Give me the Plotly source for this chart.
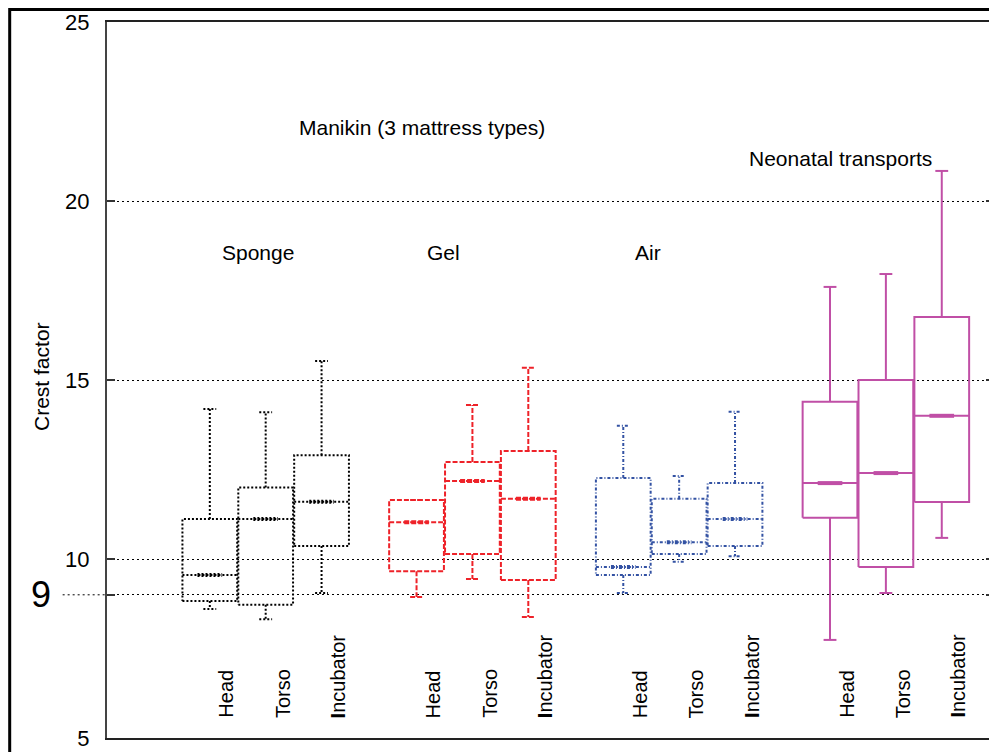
import plotly.graph_objects as go

# box statistics (Head, Torso, Incubator in each group)
groups = ["Sponge", "Gel", "Air", "Neonatal transports"]
sites = ["Head", "Torso", "Incubator"]

sponge_low = [8.60, 8.32, 9.05]
sponge_q1 = [8.83, 8.72, 10.36]
sponge_med = [9.55, 11.12, 11.60]
sponge_q3 = [11.12, 12.00, 12.90]
sponge_high = [14.19, 14.10, 15.53]

gel_low = [8.94, 9.44, 8.38]
gel_q1 = [9.66, 10.14, 9.41]
gel_med = [11.03, 12.18, 11.68]
gel_q3 = [11.65, 12.71, 13.02]
gel_high = [11.65, 14.30, 15.34]

air_low = [9.05, 9.92, 10.08]
air_q1 = [9.55, 10.14, 10.36]
air_med = [9.78, 10.47, 11.12]
air_q3 = [12.26, 11.68, 12.12]
air_high = [13.72, 12.32, 14.11]

neo_low = [7.74, 9.05, 10.59]
neo_q1 = [11.15, 9.78, 11.59]
neo_med = [12.12, 12.40, 14.00]
neo_q3 = [14.39, 15.00, 16.76]
neo_high = [17.60, 17.96, 20.84]

stats = [
    (sponge_low, sponge_q1, sponge_med, sponge_q3, sponge_high),
    (gel_low, gel_q1, gel_med, gel_q3, gel_high),
    (air_low, air_q1, air_med, air_q3, air_high),
    (neo_low, neo_q1, neo_med, neo_q3, neo_high),
]

colors = ["#000000", "#ee2229", "#3352a3", "#c04fa6"]
dashes = ["2px,2px", "5px,2px", "3px,2px,1px,2px", "solid"]

# layout of the boxes along the x axis
first_pos = 1.84
group_step = 3.7
box_w = 0.98
cap_w = 0.23

fig = go.Figure()

for g in range(len(groups)):
    low, q1, med, q3, high = stats[g]
    for s in range(len(sites)):
        xc = first_pos + g * group_step + s
        h = box_w / 2
        c = cap_w / 2
        xs = [xc - h, xc + h, xc + h, xc - h, xc - h, None,
              xc, xc, None, xc - c, xc + c, None,
              xc, xc, None, xc - c, xc + c, None,
              xc - h, xc + h]
        ys = [q1[s], q1[s], q3[s], q3[s], q1[s], None,
              q3[s], high[s], None, high[s], high[s], None,
              q1[s], low[s], None, low[s], low[s], None,
              med[s], med[s]]
        fig.add_trace(go.Scatter(x=xs, y=ys, mode="lines",
                                 line=dict(color=colors[g], width=2, dash=dashes[g]),
                                 hoverinfo="skip", showlegend=False))
        # bolder centre part of the median
        fig.add_trace(go.Scatter(x=[xc - h * 0.45, xc + h * 0.45], y=[med[s], med[s]],
                                 mode="lines",
                                 line=dict(color=colors[g], width=4, dash=dashes[g]),
                                 hoverinfo="skip", showlegend=False))
        label = "<b>I</b>ncubator" if sites[s] == "Incubator" else sites[s]
        fig.add_annotation(x=xc + 0.3, y=5.5, text=label, textangle=-90,
                           xanchor="center", yanchor="bottom", showarrow=False,
                           font=dict(size=20, color="black"))

txt = dict(size=21, color="black")
fig.add_annotation(x=5.64, y=22.04, text="Manikin (3 mattress types)", showarrow=False, font=txt)
fig.add_annotation(x=13.12, y=21.2, text="Neonatal transports", showarrow=False, font=txt)
fig.add_annotation(x=2.70, y=18.55, text="Sponge", showarrow=False, font=txt)
fig.add_annotation(x=6.02, y=18.55, text="Gel", showarrow=False, font=txt)
fig.add_annotation(x=9.68, y=18.55, text="Air", showarrow=False, font=txt)

# y axis title and the big "9" mark
fig.add_annotation(x=-0.089, xref="paper", y=15.1, text="Crest factor", textangle=-90,
                   showarrow=False, font=dict(size=21, color="black"))
fig.add_annotation(x=-0.0607, xref="paper", xanchor="right", y=9, yanchor="middle",
                   text="9", showarrow=False, font=dict(size=36, color="black"))
fig.add_shape(type="line", xref="paper", x0=-0.05, x1=0, y0=9, y1=9,
              line=dict(color="black", width=1, dash="2px,3px"))

# outer frame
fig.add_shape(type="rect", xref="paper", yref="paper", x0=-0.1097, x1=1.05,
              y0=-0.05, y1=1.0175, line=dict(color="black", width=3))

fig.update_xaxes(range=[0, 15.875], showticklabels=False, ticks="", showgrid=False,
                 zeroline=False, showline=True, linecolor="#222", linewidth=2, mirror=True)
fig.update_yaxes(range=[5, 25], tickvals=[5, 9, 10, 15, 20, 25],
                 ticktext=["5", "", "10", "15", "20", "25"],
                 ticks="inside", ticklen=8, tickcolor="#333", tickwidth=2,
                 ticklabelstandoff=11,
                 showgrid=True, gridcolor="black", gridwidth=1, griddash="2px,3px",
                 zeroline=False, showline=True, linecolor="#444", linewidth=2,
                 mirror="ticks", tickfont=dict(size=22, color="black"))

# the page body adds an 8px offset, so the figure is shrunk to fit the window
fig.update_layout(width=989, height=744,
                  margin=dict(l=99, r=1, t=14, b=14),
                  font=dict(family="Liberation Sans, Arial, sans-serif"),
                  paper_bgcolor="white", plot_bgcolor="white")

fig.write_html("out.html")
